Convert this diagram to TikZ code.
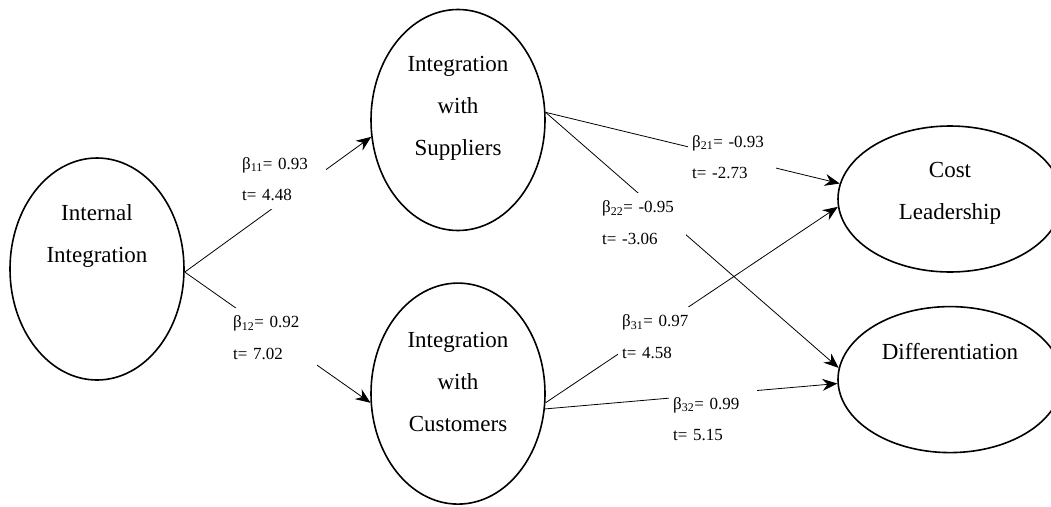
\documentclass[tikz,border=0pt]{standalone}
\usepackage{fontspec}
\setmainfont{Liberation Serif}
\usetikzlibrary{arrows.meta,positioning,shapes.geometric}
\tikzset{
    %Define standard arrow tip
    >={Stealth[length=15pt,width=12pt,inset=5pt]},
    var/.style={
      ellipse,
      draw=black, line width=1.6pt,
      inner sep=0pt},
    vartext/.style={
      align=center,
      font=\fontsize{23}{42}\selectfont},
    coef/.style={
      fill=white,
      text width=80pt,
      inner xsep=4pt, inner ysep=8pt,
      align=left,
      anchor=west,
      font=\fontsize{17}{31.5}\selectfont},
    link/.style={
      ->,
      line width=0.8pt},
}

\begin{document}
\begin{tikzpicture}[x=1pt, y=-1pt]
    \useasboundingbox (0,0) rectangle (1051,506);
    % constructs
    \node (intl) [var, minimum width=174pt, minimum height=222pt,
          label={[vartext,yshift=33pt]center:Internal\\Integration}]
          at (97,269) {};
    \node (supp) [var, minimum width=174pt, minimum height=221pt,
          label={[vartext,yshift=12pt]center:Integration\\with\\Suppliers}]
          at (458,120) {};
    \node (cust) [var, minimum width=174pt, minimum height=221pt,
          label={[vartext,yshift=12pt]center:Integration\\with\\Customers}]
          [below=51pt of supp] {};
    \node (cost) [var, minimum width=224pt, minimum height=146pt,
          label={[vartext,yshift=6pt]center:Cost\\Leadership}]
          at (950,199) {};
    \node (diff) [var, minimum width=224pt, minimum height=146pt,
          label={[vartext,yshift=28pt]center:Differentiation}]
          [below=33pt of cost] {};
    % paths
    \draw [link] (intl.-2) -- (supp.191);
    \draw [link] (intl.-2) -- (cust.186);
    \draw [link] (supp.5) -- (cost.172);
    \draw [link] (supp.5) -- (diff.174);
    \draw [link] (cust.-6) -- (cost.184);
    \draw [link] (cust.-10) -- (diff.182);
    % coefficients
    \node (b11) [coef] at (238,179) {β\textsubscript{11}= 0.93\\t= 4.48};
    \node (b12) [coef] at (229,337.5) {β\textsubscript{12}= 0.92\\t= 7.02};
    \node (b21) [coef] at (688,157) {β\textsubscript{21}= -0.93\\t= -2.73};
    \node (b22) [coef] at (598,222.5) {β\textsubscript{22}= -0.95\\t= -3.06};
    \node (b31) [coef] at (618,336.5) {β\textsubscript{31}= 0.97\\t= 4.58};
    \node (b32) [coef] at (669,419) {β\textsubscript{32}= 0.99\\t= 5.15};
\end{tikzpicture}
\end{document}
